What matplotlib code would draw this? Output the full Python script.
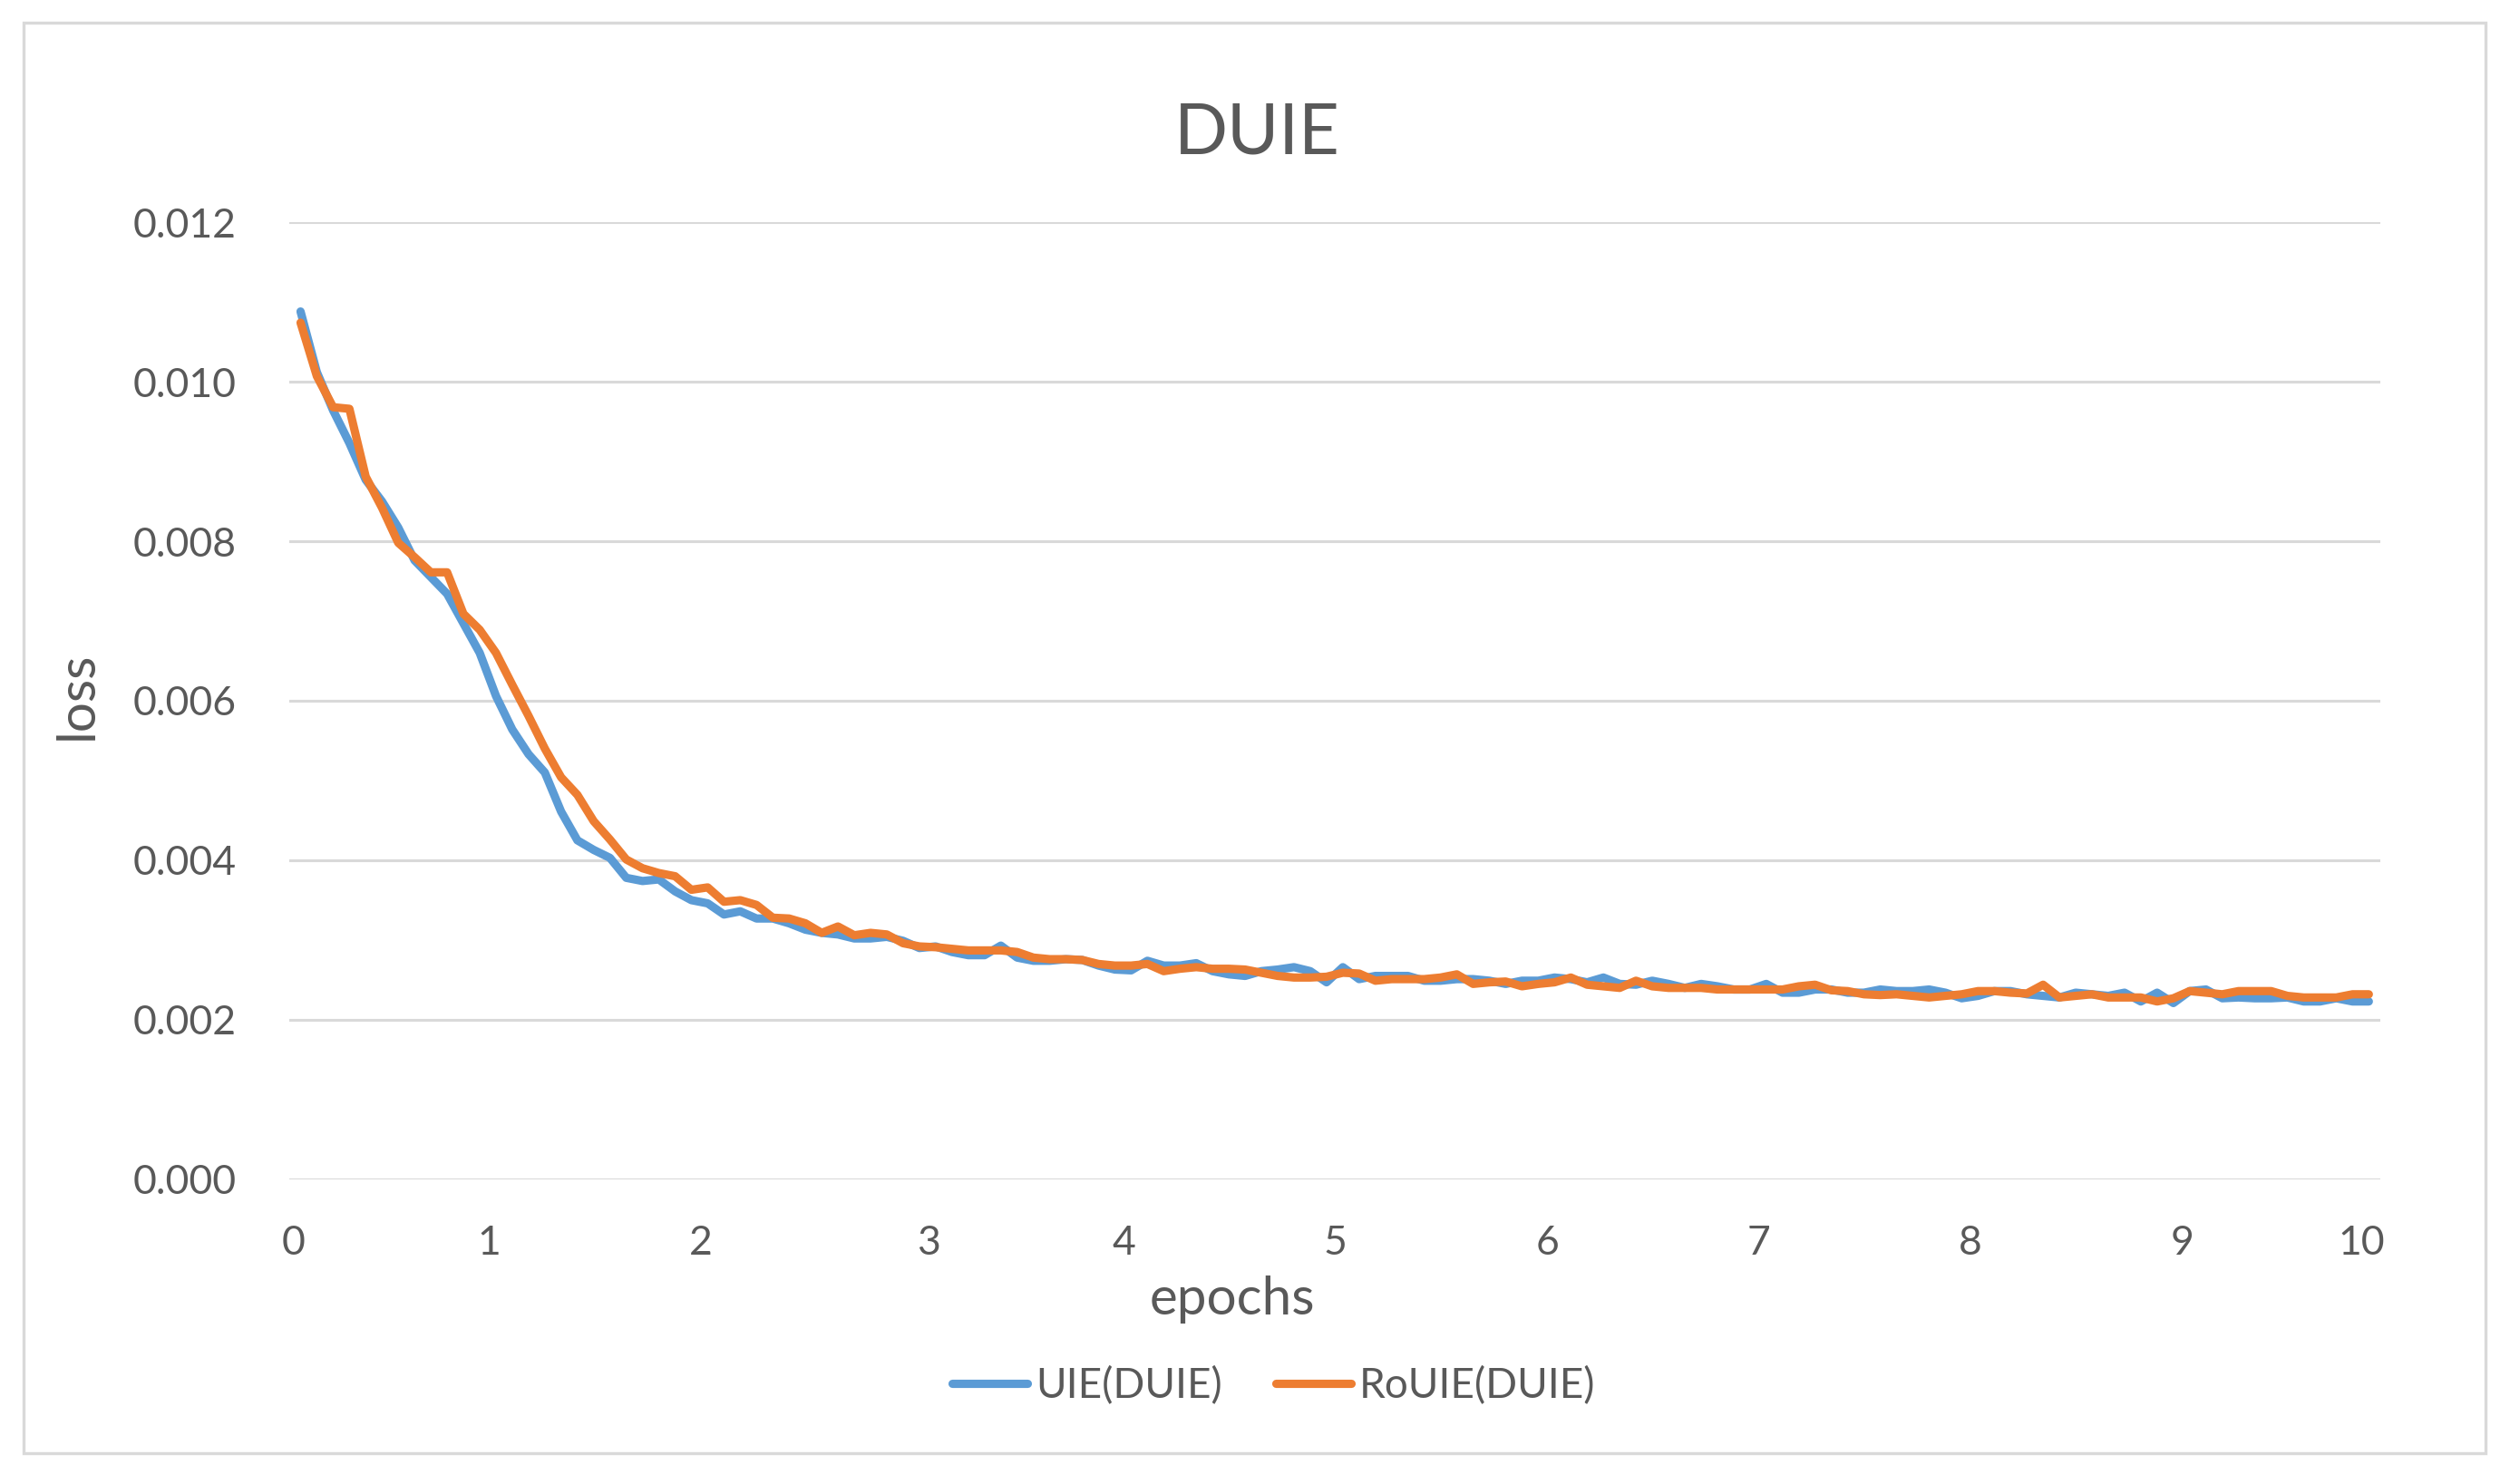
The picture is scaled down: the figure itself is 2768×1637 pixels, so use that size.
import matplotlib
matplotlib.use("Agg")
import numpy as np
from matplotlib import pyplot as plt
from matplotlib.patches import Rectangle

# loss values in units of 1e-3, one per logged step
uie = [10.88, 10.12, 9.64, 9.23, 8.77, 8.50, 8.17, 7.76, 7.55, 7.34,
       6.97, 6.60, 6.06, 5.64, 5.33, 5.10, 4.61, 4.25, 4.13, 4.03,
       3.78, 3.74, 3.76, 3.61, 3.50, 3.46, 3.32, 3.36, 3.27, 3.27,
       3.21, 3.13, 3.09, 3.07, 3.02, 3.02, 3.04, 2.99, 2.90, 2.92,
       2.85, 2.81, 2.81, 2.93, 2.78, 2.74, 2.74, 2.76, 2.75, 2.68,
       2.63, 2.62, 2.74, 2.68, 2.68, 2.71, 2.61, 2.57, 2.55, 2.61,
       2.63, 2.66, 2.61, 2.47, 2.66, 2.51, 2.55, 2.55, 2.55, 2.49,
       2.49, 2.51, 2.51, 2.49, 2.45, 2.49, 2.49, 2.53, 2.51, 2.47,
       2.53, 2.45, 2.44, 2.49, 2.45, 2.40, 2.45, 2.42, 2.38, 2.38,
       2.45, 2.34, 2.34, 2.38, 2.38, 2.34, 2.34, 2.38, 2.36, 2.36,
       2.38, 2.34, 2.27, 2.30, 2.36, 2.36, 2.32, 2.30, 2.28, 2.34,
       2.32, 2.30, 2.34, 2.23, 2.34, 2.21, 2.36, 2.38, 2.27, 2.28,
       2.27, 2.27, 2.28, 2.23, 2.23, 2.27, 2.23, 2.23]
rouie = [10.74, 10.07, 9.68, 9.66, 8.81, 8.42, 7.98, 7.80, 7.61, 7.61,
         7.09, 6.89, 6.60, 6.20, 5.81, 5.40, 5.04, 4.82, 4.49, 4.26,
         4.01, 3.90, 3.84, 3.80, 3.63, 3.66, 3.48, 3.50, 3.44, 3.28,
         3.27, 3.21, 3.09, 3.17, 3.06, 3.09, 3.07, 2.96, 2.92, 2.91,
         2.89, 2.87, 2.87, 2.87, 2.85, 2.78, 2.76, 2.76, 2.75, 2.70,
         2.68, 2.68, 2.70, 2.61, 2.64, 2.66, 2.64, 2.64, 2.63, 2.59,
         2.55, 2.53, 2.53, 2.54, 2.59, 2.58, 2.49, 2.51, 2.51, 2.51,
         2.53, 2.57, 2.45, 2.47, 2.48, 2.42, 2.45, 2.47, 2.53, 2.44,
         2.42, 2.40, 2.49, 2.42, 2.40, 2.40, 2.40, 2.38, 2.38, 2.38,
         2.38, 2.38, 2.42, 2.44, 2.37, 2.36, 2.32, 2.31, 2.32, 2.30,
         2.28, 2.30, 2.32, 2.36, 2.36, 2.34, 2.33, 2.44, 2.28, 2.30,
         2.32, 2.28, 2.28, 2.28, 2.23, 2.27, 2.36, 2.34, 2.32, 2.36,
         2.36, 2.36, 2.30, 2.28, 2.28, 2.28, 2.32, 2.32]

# category index where each epoch label sits
epoch_labels = ["0", "1", "2", "3", "4", "5", "6", "7", "8", "9", "10"]
epoch_idx = [0, 12, 25, 39, 51, 64, 77, 90, 103, 116, 127]
y_ticks = [0.000, 0.002, 0.004, 0.006, 0.008, 0.010, 0.012]

plt.rcParams["font.family"] = ["Lato", "DejaVu Sans"]
text_color = "#595959"

fig = plt.figure(figsize=(13.84, 8.185), dpi=200)
ax = fig.add_axes([0.1152, 0.2053, 0.8331, 0.645])

x = np.arange(len(uie))
ax.plot(x, np.array(uie) * 1e-3, color="#5B9BD5", lw=3.3, label="UIE(DUIE)",
        solid_capstyle="round", solid_joinstyle="round")
ax.plot(x, np.array(rouie) * 1e-3, color="#ED7D31", lw=3.3, label="RoUIE(DUIE)",
        solid_capstyle="round", solid_joinstyle="round")

ax.set_xlim(-0.7, 127.7)
ax.set_ylim(0, 0.012)
ax.set_yticks(y_ticks)
ax.set_yticklabels(["%.3f" % v for v in y_ticks])
ax.set_xticks(np.array(epoch_idx) - 0.45)
ax.set_xticklabels(epoch_labels)
ax.tick_params(axis="both", length=0, labelsize=16, colors=text_color)
ax.tick_params(axis="y", pad=21)
ax.tick_params(axis="x", pad=18)
ax.grid(axis="y", color="#D9D9D9", lw=1.1)
ax.set_axisbelow(True)
for s in ax.spines.values():
    s.set_visible(False)

fig.text(0.5007, 0.9096, "DUIE", ha="center", va="center", fontsize=28, color=text_color)
fig.text(0.491, 0.1246, "epochs", ha="center", va="center", fontsize=21, color=text_color)
fig.text(0.0307, 0.531, "loss", ha="center", va="center", rotation=90, fontsize=21, color=text_color)

fig.legend(loc="center", bbox_to_anchor=(0.5076, 0.066), ncol=2, frameon=False,
           fontsize=16.5, handlelength=1.8, handletextpad=0.2, columnspacing=1.3,
           labelcolor=text_color)

fig.patches.append(Rectangle((0.0094, 0.0208), 0.9809, 0.9639, transform=fig.transFigure,
                             fill=False, edgecolor="#D9D9D9", lw=1.2))

fig.savefig("out.png", dpi=200, facecolor="white")
